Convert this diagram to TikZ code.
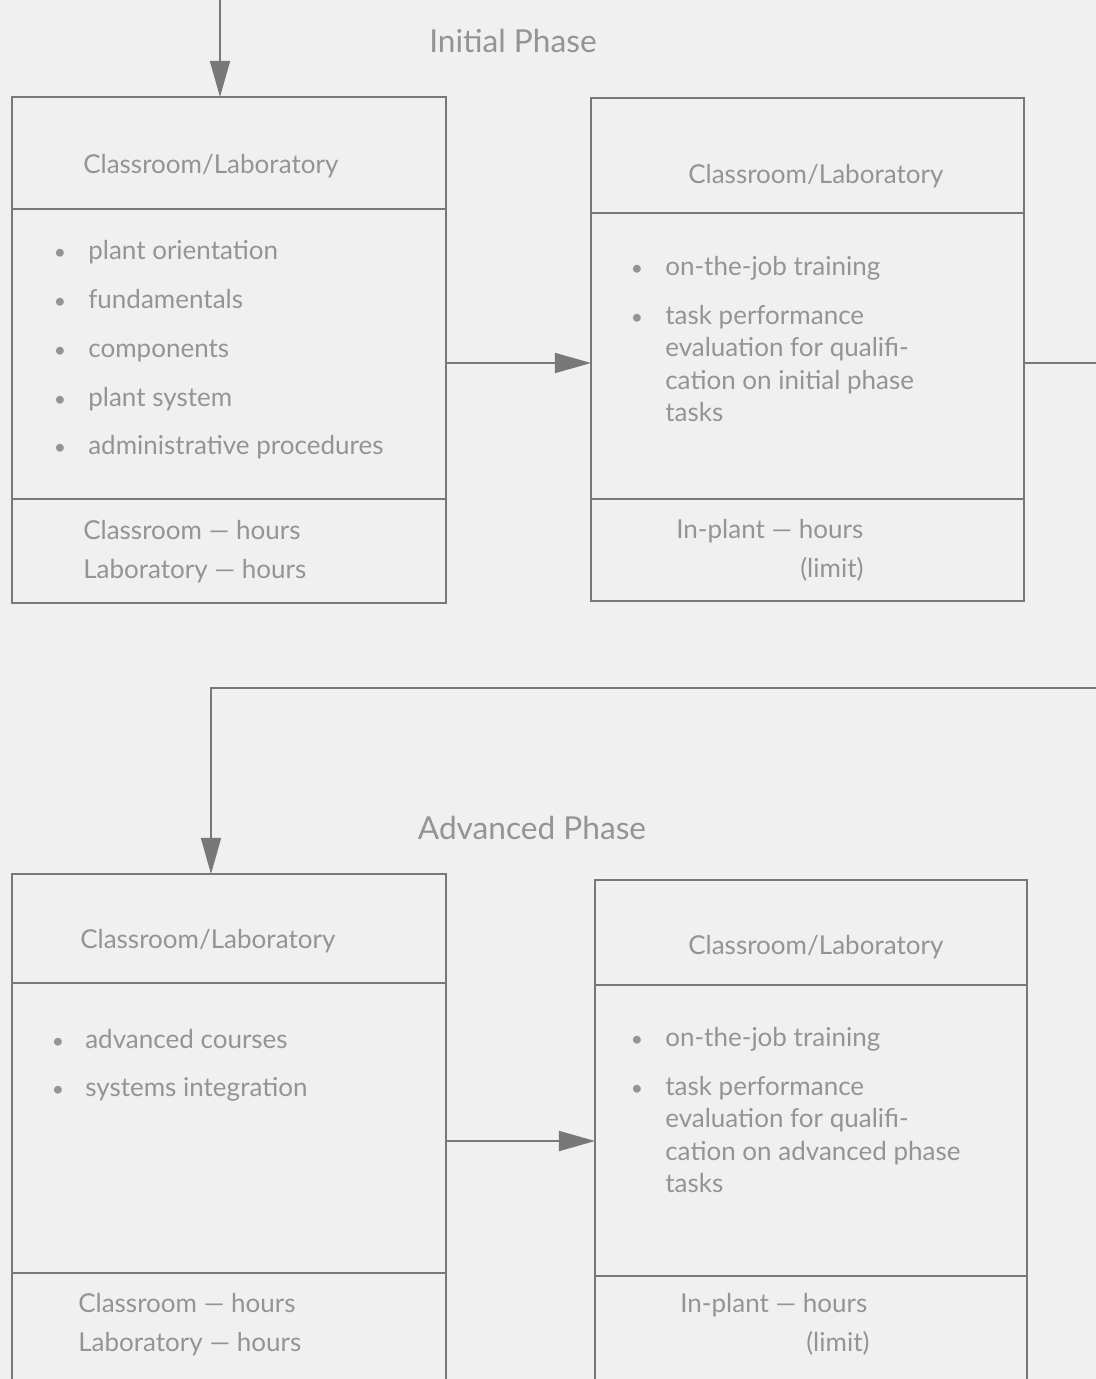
\documentclass[tikz,border=0pt]{standalone}
\usepackage{fontspec}
\setmainfont{Lato}
\usetikzlibrary{arrows.meta}
\definecolor{paper}{RGB}{240,240,240}
\definecolor{ink}{RGB}{120,120,120}
\definecolor{txtgray}{RGB}{148,148,148}
\tikzset{
  box/.style={draw=ink,line width=1.2pt,anchor=north west,inner sep=0pt,outer sep=0pt},
  txt/.style={anchor=mid west,inner sep=0pt,yshift=-3.2pt,text=txtgray,font=\fontsize{18.5}{23}\selectfont},
  bul/.style={anchor=mid,inner sep=0pt,yshift=-3.2pt,text=txtgray,font=\fontsize{15}{15}\selectfont},
  phase/.style={anchor=mid,inner sep=0pt,yshift=-4pt,text=txtgray,font=\fontsize{22.5}{26}\selectfont},
  arr/.style={draw=ink,line width=1.2pt,-{Triangle[length=0.9cm,width=0.5cm]}},
  link/.style={draw=ink,line width=1.2pt},
}
\begin{document}
\begin{tikzpicture}[x=0.025cm,y=-0.025cm]
	\useasboundingbox (0,0) rectangle (1096,1379);
	\clip (0,0) rectangle (1096,1379);
	\fill[paper] (0,0) rectangle (1096,1379);
	% initial phase
	\node[phase] (ini) at (513,43) {Initial Phase};
	\node[box,minimum width=10.85cm,minimum height=12.65cm] (a1) at (12,97) {};
	\node[box,minimum width=10.825cm,minimum height=12.575cm] (b1) at (591,98) {};
	\draw[link] (a1.west |- 0,209) -- (a1.east |- 0,209);
	\draw[link] (a1.west |- 0,499) -- (a1.east |- 0,499);
	\draw[link] (b1.west |- 0,213) -- (b1.east |- 0,213);
	\draw[link] (b1.west |- 0,499) -- (b1.east |- 0,499);
	\node[txt] (a1h) at (83,165) {Classroom/Laboratory};
	\foreach \y/\t [count=\i] in {251/plant orientation,300/fundamentals,349/components,398/plant system,446/administrative procedures}{
		\node[bul] (a1b\i) at (60,\y) {•};
		\node[txt] (a1t\i) at (88,\y) {\t};
	}
	\node[txt] (a1f1) at (83,531) {Classroom — hours};
	\node[txt] (a1f2) at (83,570) {Laboratory — hours};
	\node[txt] (b1h) at (688,175) {Classroom/Laboratory};
	\foreach \y [count=\i] in {267,316} \node[bul] (b1b\i) at (637,\y) {•};
	\foreach \y/\t [count=\i] in {267/on-the-job training,316/task performance,348/evaluation for qualifi-,381/cation on initial phase,413/tasks}
		\node[txt] (b1t\i) at (665,\y) {\t};
	\node[txt] (b1f1) at (676,530) {In-plant — hours};
	\node[txt] (b1f2) at (800,569) {(limit)};
	% advanced phase
	\node[phase] (adv) at (532,830) {Advanced Phase};
	\node[box,minimum width=10.85cm,minimum height=13.65cm] (a2) at (12,874) {};
	\node[box,minimum width=10.8cm,minimum height=13.5cm] (b2) at (595,880) {};
	\draw[link] (a2.west |- 0,983) -- (a2.east |- 0,983);
	\draw[link] (a2.west |- 0,1273) -- (a2.east |- 0,1273);
	\draw[link] (b2.west |- 0,985) -- (b2.east |- 0,985);
	\draw[link] (b2.west |- 0,1276) -- (b2.east |- 0,1276);
	\node[txt] (a2h) at (80,940) {Classroom/Laboratory};
	\foreach \y/\t [count=\i] in {1040/advanced courses,1088/systems integration}{
		\node[bul] (a2b\i) at (58,\y) {•};
		\node[txt] (a2t\i) at (85,\y) {\t};
	}
	\node[txt] (a2f1) at (78,1304) {Classroom — hours};
	\node[txt] (a2f2) at (78,1343) {Laboratory — hours};
	\node[txt] (b2h) at (688,946) {Classroom/Laboratory};
	\foreach \y [count=\i] in {1038,1087} \node[bul] (b2b\i) at (637,\y) {•};
	\foreach \y/\t [count=\i] in {1038/on-the-job training,1087/task performance,1119/evaluation for qualifi-,1152/cation on advanced phase,1184/tasks}
		\node[txt] (b2t\i) at (665,\y) {\t};
	\node[txt] (b2f1) at (680,1304) {In-plant — hours};
	\node[txt] (b2f2) at (806,1343) {(limit)};
	% connectors
	\coordinate (in) at (220,-5);
	\coordinate (turn) at (1120,363);
	\draw[arr] (in) -- (in |- a1.north);
	\draw[arr] (a1.east |- 0,363) -- (b1.west |- 0,363);
	\draw[arr] (b1.east |- turn) -- (turn) -- (1120,688) -- (211,688) -- (a2.north -| 211,0);
	\draw[arr] (a2.east |- 0,1141) -- (b2.west |- 0,1141);
\end{tikzpicture}
\end{document}
